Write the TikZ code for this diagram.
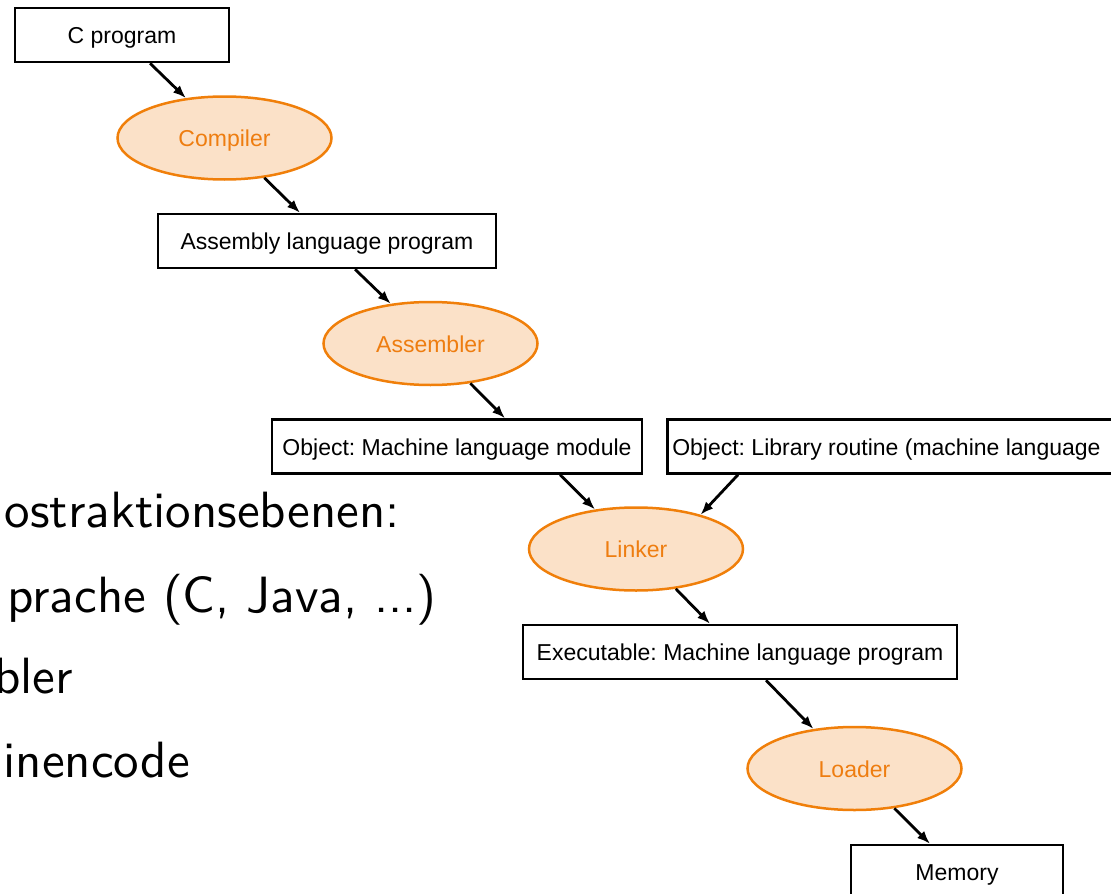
\documentclass[tikz,border=0pt]{standalone}
\usepackage{fontspec}
\setmainfont{Liberation Sans}
\newfontfamily\lvlfont{lmsans10-regular.otf}
\usepackage{tikz}
\usepackage{xcolor}
\usetikzlibrary{positioning, arrows.meta}
\usetikzlibrary{shapes.geometric}

\definecolor{toolline}{HTML}{F07F0A}
\definecolor{toolfill}{HTML}{FBE1C8}
\definecolor{tooltext}{HTML}{EE7D10}

\tikzset{
    box/.style={rectangle, draw=black, line width=2.5pt, minimum height=54pt, inner sep=0pt, text height=17pt, text depth=0pt, font=\fontsize{23}{27}\selectfont},
    tool/.style={ellipse, draw=toolline, fill=toolfill, text=tooltext, line width=2.5pt, minimum width=214pt, minimum height=83pt, inner sep=0pt, text height=17pt, text depth=0pt, font=\fontsize{23}{27}\selectfont},
    flow/.style={-{Latex[length=13pt, width=10pt]}, line width=2.8pt},
    level/.style={anchor=base east, inner sep=0pt, font=\lvlfont\fontsize{51}{61}\selectfont}
}

\begin{document}
\frenchspacing
\begin{tikzpicture}[x=1pt, y=-1pt]
            \useasboundingbox (0, 0) rectangle (1111, 894);
            \clip (0, 0) rectangle (1111, 894);

            \node[level] (lvl0) at (400, 527) {ostraktionsebenen:};
            \node[level] (lvl1) at (437, 612) {prache (C, Java, ...)};
            \node[level] (lvl2) at (73, 693) {bler};
            \node[level] (lvl3) at (190, 777) {inencode};

            \node[box, minimum width=214pt] (cprog) at (122, 35) {C program};
            \node[tool] (compiler) at (224.5, 138) {Compiler};
            \node[box, minimum width=338pt] (asmprog) at (327, 241) {Assembly language program};
            \node[tool] (assembler) at (430.5, 343.5) {Assembler};
            \node[box, minimum width=370pt] (objmod) at (457, 446.5) {Object: Machine language module};
            \node[box, anchor=west, inner xsep=5pt] (objlib) at (666, 446.5) {\makebox[470pt][l]{Object: Library routine (machine language}};
            \node[tool] (linker) at (636, 549) {Linker};
            \node[box, minimum width=434pt] (execprog) at (740, 652) {Executable: Machine language program};
            \node[tool] (loader) at (854.5, 768.5) {Loader};
            \node[box, minimum width=212pt] (memory) at (957, 872) {Memory};

            \draw[flow] ([xshift=28pt]cprog.south) -- (compiler.134);
            \draw[flow] (compiler.-45) -- ([xshift=-27pt]asmprog.north);
            \draw[flow] ([xshift=28pt]asmprog.south) -- (assembler.135);
            \draw[flow] (assembler.-45) -- ([xshift=48pt]objmod.north);
            \draw[flow] ([xshift=103pt]objmod.south) -- (linker.136);
            \draw[flow] ([xshift=72pt]objlib.south west) -- (linker.28);
            \draw[flow] (linker.-45) -- ([xshift=-30pt]execprog.north);
            \draw[flow] ([xshift=26pt]execprog.south) -- (loader.136);
            \draw[flow] (loader.-45) -- ([xshift=-27pt]memory.north);
        \end{tikzpicture}
\end{document}
